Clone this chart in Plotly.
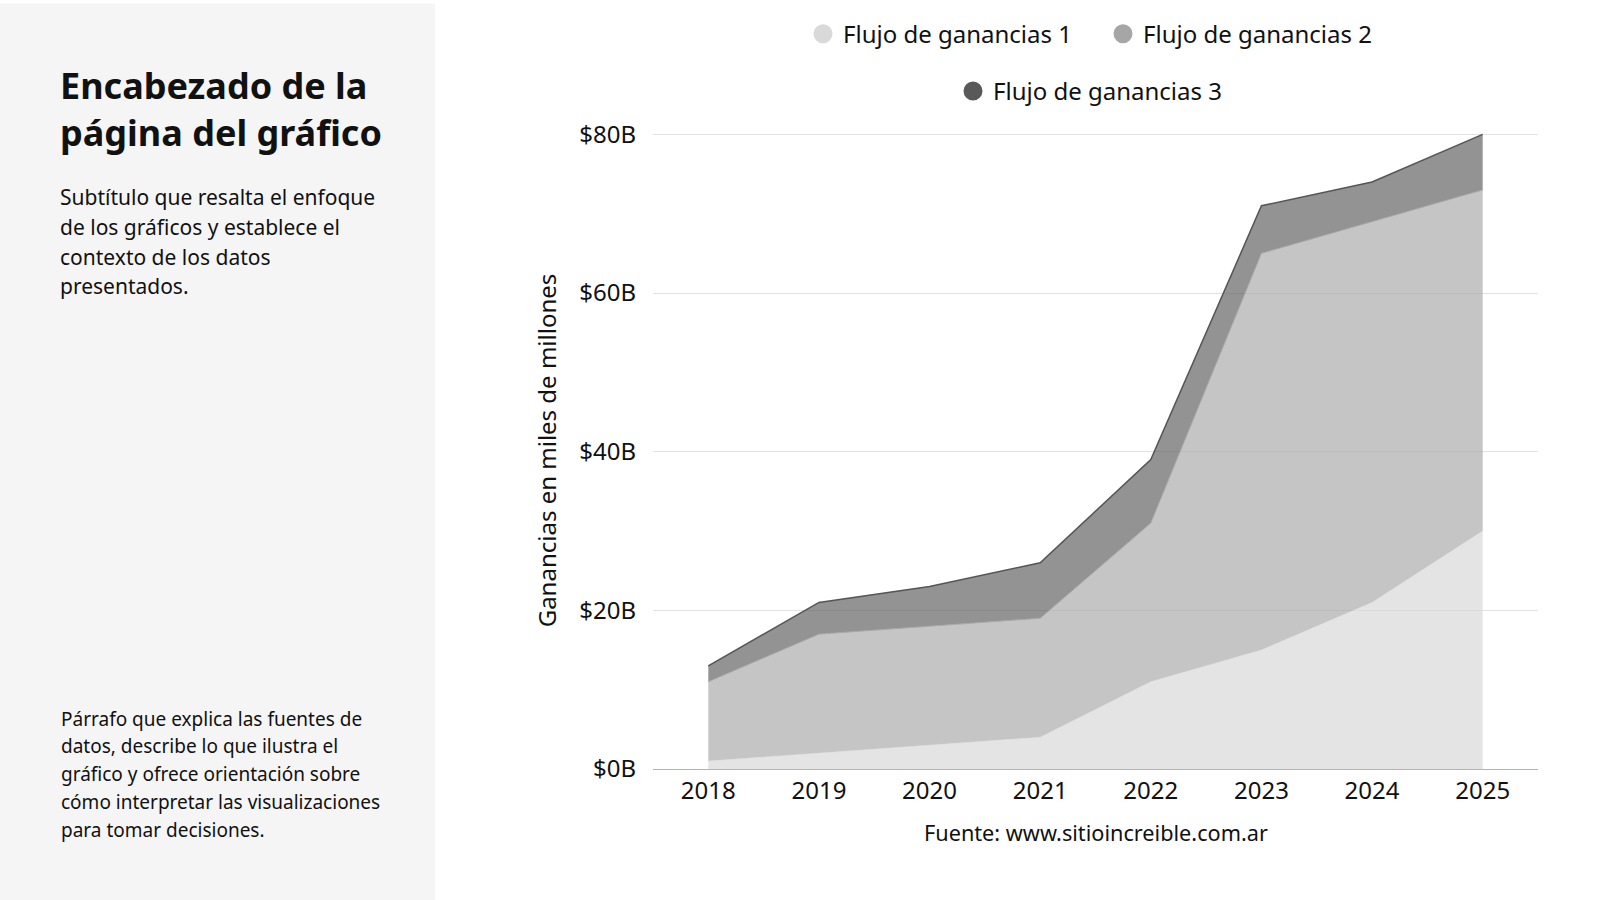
import plotly.graph_objects as go

# Datos (miles de millones)
anios = ['2018', '2019', '2020', '2021', '2022', '2023', '2024', '2025']
flujo_1 = [1, 2, 3, 4, 11, 15, 21, 30]
flujo_2 = [10, 15, 15, 15, 20, 50, 48, 43]
flujo_3 = [2, 4, 5, 7, 8, 6, 5, 7]
nombres = ['Flujo de ganancias 1', 'Flujo de ganancias 2', 'Flujo de ganancias 3']
y_ticks = [0, 20, 40, 60, 80]
y_etiquetas = ['$0B', '$20B', '$40B', '$60B', '$80B']

titulo = 'Encabezado de la<br>página del gráfico'
subtitulo = ['Subtítulo que resalta el enfoque', 'de los gráficos y establece el',
             'contexto de los datos', 'presentados.']
parrafo = ['Párrafo que explica las fuentes de', 'datos, describe lo que ilustra el',
           'gráfico y ofrece orientación sobre', 'cómo interpretar las visualizaciones',
           'para tomar decisiones.']

# Tamaño de la página y márgenes en píxeles
W, H = 1600, 900
L, R, T, B = 653, 62, 125, 131
pw, ph = W - L - R, H - T - B


def px(x):
    return (x - L) / pw


def py(y):
    return (H - B - y) / ph


colores = ['#d9d9d9', '#a6a6a6', '#595959']
rellenos = ['rgba(217,217,217,0.72)', 'rgba(166,166,166,0.65)', 'rgba(89,89,89,0.65)']
lineas = [dict(color='#dedede', width=0.5), dict(color='#a9a9a9', width=1),
          dict(color='#555555', width=1.5)]

fig = go.Figure()

for serie, i in zip([flujo_1, flujo_2, flujo_3], range(3)):
    fig.add_trace(go.Scatter(
        x=anios, y=serie, mode='lines', stackgroup='uno',
        fillcolor=rellenos[i], line=lineas[i], name=nombres[i],
        showlegend=False, hoverinfo='x+y+name'
    ))

# Entradas de leyenda con círculos
for i in range(3):
    fig.add_trace(go.Scatter(
        x=[None], y=[None], mode='markers', name=nombres[i],
        marker=dict(size=16, color=colores[i], line=dict(color=colores[i], width=3)),
        legend='legend' if i < 2 else 'legend2'
    ))

fuente = 'Noto Sans'

anotaciones = [dict(text=titulo, x=px(58), y=py(102), xref='paper', yref='paper',
                    xanchor='left', yanchor='middle', align='left', showarrow=False,
                    font=dict(family=fuente, size=36, color='#111111', weight='bold'))]
for k, linea in enumerate(subtitulo):
    anotaciones.append(dict(text=linea, x=px(58), y=py(191 + 30 * k), xref='paper', yref='paper',
                            xanchor='left', yanchor='middle', showarrow=False,
                            font=dict(family=fuente, size=21, color='#111111')))
for k, linea in enumerate(parrafo):
    anotaciones.append(dict(text=linea, x=px(59), y=py(718 + 28.2 * k), xref='paper', yref='paper',
                            xanchor='left', yanchor='middle', showarrow=False,
                            font=dict(family=fuente, size=19, color='#111111')))
anotaciones.append(dict(text='Fuente: www.sitioincreible.com.ar', x=0.5, y=py(833),
                        xref='paper', yref='paper', xanchor='center', yanchor='middle',
                        showarrow=False, font=dict(family=fuente, size=21.7, color='#111111')))

fig.update_layout(
    width=W, height=H,
    margin=dict(l=L, r=R, t=T, b=B),
    paper_bgcolor='white', plot_bgcolor='white',
    font=dict(family=fuente, size=22, color='#111111'),
    shapes=[dict(type='rect', xref='paper', yref='paper', x0=px(-5), x1=px(435),
                 y0=py(H + 5), y1=py(-5), fillcolor='#f5f5f5', line=dict(width=0), layer='below')],
    annotations=anotaciones,
    legend=dict(orientation='h', traceorder='normal', x=px(803), xanchor='left', y=py(26),
                yanchor='middle', entrywidth=255, font=dict(size=24), bgcolor='rgba(0,0,0,0)'),
    legend2=dict(orientation='h', traceorder='normal', x=px(953), xanchor='left', y=py(84),
                 yanchor='middle', font=dict(size=24), bgcolor='rgba(0,0,0,0)'),
    xaxis=dict(type='category', range=[-0.5, 7.5], showline=True, linecolor='#b3b3b3',
               linewidth=1, showgrid=False, ticks='', tickfont=dict(size=24),
               ticklabelstandoff=0),
    yaxis=dict(range=[0, 80.3], tickvals=y_ticks, ticktext=y_etiquetas, showgrid=True,
               gridcolor='#e2e2e2', gridwidth=1, zeroline=False, ticks='',
               tickfont=dict(size=24), ticklabelstandoff=16,
               title=dict(text='Ganancias en miles de millones', font=dict(size=24), standoff=15)),
)

ajuste = ("document.body.style.margin='0';document.body.style.padding='0';"
          "var d=document.getElementsByClassName('plotly-graph-div')[0];"
          "d.style.position='absolute';d.style.top='0px';d.style.left='0px';")
fig.write_html('out.html', config={'displayModeBar': False}, post_script=ajuste)
